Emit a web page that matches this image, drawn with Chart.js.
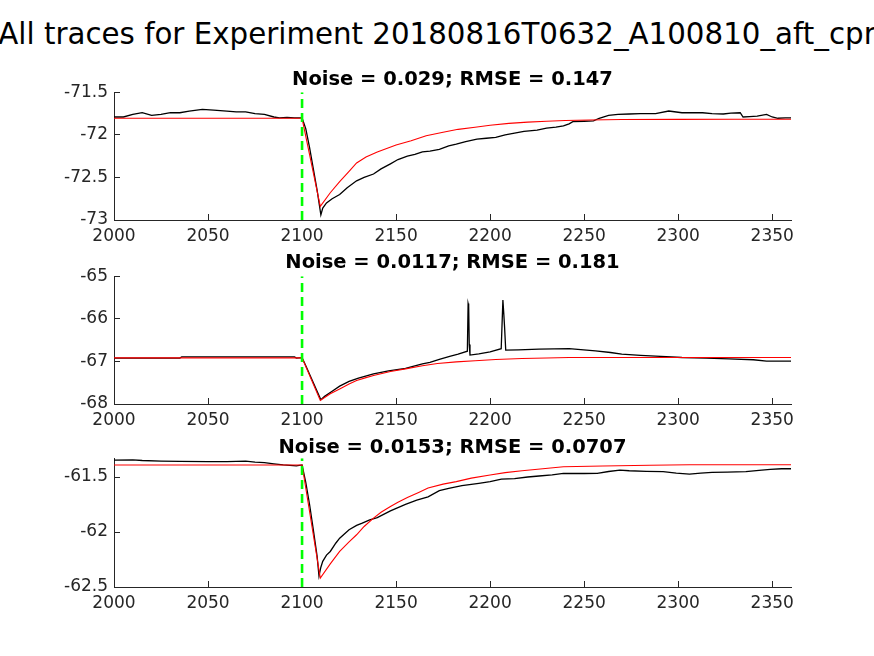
<!DOCTYPE html>
<html>
<head>
<meta charset="utf-8">
<title>All traces</title>
<script src="https://cdn.jsdelivr.net/npm/chart.js@4.4.1/dist/chart.umd.min.js"></script>
<style>
  html, body { margin: 0; padding: 0; background: #fff; }
  #page { position: relative; width: 874px; height: 656px; overflow: hidden; background: #fff; }
  #main-title {
    position: absolute; left: 50%; top: 20px; transform: translateX(-50%);
    white-space: nowrap; font-family: "DejaVu Sans", sans-serif; font-size: 29.3px;
    line-height: 29px; color: #000;
  }
  canvas { position: absolute; left: 0; }
</style>
</head>
<body>
<div id="page">
  <div id="main-title">All traces for Experiment 20180816T0632_A100810_aft_cpr</div>
  <canvas id="c1" width="874" height="200" style="top:60px"></canvas>
  <canvas id="c2" width="874" height="199" style="top:245px"></canvas>
  <canvas id="c3" width="874" height="199" style="top:428px"></canvas>
</div>
<script>
// shared x axis
const xTicks = [2000, 2050, 2100, 2150, 2200, 2250, 2300, 2350];
const xMin = 2000, xMax = 2360;
const stimTime = 2100;

// panel 1
const title1 = "Noise = 0.029; RMSE = 0.147";
const y1Ticks = [-73, -72.5, -72, -71.5];
const t1Trace = [2000, 2005, 2010, 2015, 2020, 2025, 2030, 2035, 2040, 2047, 2053, 2060, 2065, 2070, 2075, 2080, 2085, 2088, 2092, 2096, 2100,
  2102, 2104, 2106, 2108, 2110, 2111, 2113, 2116, 2120, 2124, 2129, 2133, 2138, 2142, 2147, 2151, 2156, 2160, 2164, 2168, 2173, 2178,
  2182, 2187, 2193, 2198, 2203, 2208, 2213, 2218, 2225, 2230, 2235, 2239, 2242, 2244, 2250, 2255, 2258, 2263, 2268, 2274, 2280, 2288,
  2295, 2302, 2308, 2313, 2318, 2324, 2328, 2333, 2334.5, 2338, 2342, 2347, 2350, 2353, 2357, 2360];
const v1Trace = [-71.79, -71.79, -71.76, -71.74, -71.77, -71.76, -71.74, -71.74, -71.72, -71.70, -71.71, -71.72, -71.73, -71.73, -71.75, -71.76, -71.79, -71.80, -71.795, -71.80, -71.80,
  -71.93, -72.15, -72.40, -72.65, -72.94, -72.86, -72.80, -72.75, -72.70, -72.62, -72.54, -72.50, -72.46, -72.40, -72.34, -72.29, -72.25, -72.23, -72.20, -72.19, -72.17, -72.13,
  -72.11, -72.08, -72.05, -72.04, -72.03, -72.00, -71.98, -71.96, -71.945, -71.92, -71.91, -71.895, -71.87, -71.845, -71.84, -71.835, -71.805, -71.77, -71.76, -71.755, -71.75, -71.75,
  -71.72, -71.74, -71.74, -71.74, -71.75, -71.755, -71.745, -71.74, -71.79, -71.785, -71.78, -71.76, -71.79, -71.805, -71.80, -71.80];
const t1Fit = [2000, 2100, 2109.7, 2115, 2120, 2125, 2129, 2134, 2140, 2145, 2150, 2158, 2166, 2175, 2183, 2192, 2200, 2210, 2220, 2230, 2240, 2253, 2270, 2300, 2330, 2360];
const v1Fit = [-71.805, -71.805, -72.84, -72.68, -72.55, -72.43, -72.33, -72.26, -72.20, -72.16, -72.12, -72.07, -72.01, -71.97, -71.935, -71.91, -71.887, -71.865, -71.85, -71.84, -71.832, -71.826, -71.82, -71.818, -71.817, -71.817];

// panel 2
const title2 = "Noise = 0.0117; RMSE = 0.181";
const y2Ticks = [-68, -67, -66, -65];
const t2Trace = [2000, 2035, 2036, 2096, 2097, 2100, 2102, 2105, 2108, 2110, 2112, 2116, 2120, 2125, 2130, 2138, 2146, 2155, 2164, 2168, 2173,
  2178.5, 2183, 2187.9, 2188.3, 2188.6, 2188.9, 2189.3, 2194, 2200, 2205.9, 2206.8, 2207.3, 2207.7, 2208.3, 2215, 2226, 2242, 2256, 2264,
  2270, 2280, 2288, 2302, 2315, 2327, 2340, 2347, 2360];
const v2Trace = [-66.92, -66.92, -66.893, -66.893, -66.92, -66.91, -67.10, -67.40, -67.70, -67.90, -67.82, -67.70, -67.58, -67.47, -67.39, -67.29, -67.22, -67.165, -67.06, -67.02, -66.95,
  -66.88, -66.83, -66.76, -65.64, -65.70, -66.60, -66.85, -66.82, -66.775, -66.70, -65.56, -65.90, -66.20, -66.735, -66.73, -66.712, -66.70, -66.75, -66.79,
  -66.83, -66.86, -66.877, -66.908, -66.92, -66.94, -66.96, -66.994, -66.994];
const t2Fit = [2000, 2100, 2109.7, 2115, 2120, 2125, 2129, 2134, 2138, 2147, 2155, 2164, 2172, 2182, 2192, 2203, 2217, 2230, 2242, 2360];
const v2Fit = [-66.916, -66.916, -67.915, -67.76, -67.646, -67.53, -67.45, -67.38, -67.33, -67.237, -67.175, -67.10, -67.05, -67.01, -66.985, -66.955, -66.93, -66.918, -66.908, -66.908];

// panel 3
const title3 = "Noise = 0.0153; RMSE = 0.0707";
const y3Ticks = [-62.5, -62, -61.5];
const y3Max = -61.33;
const t3Trace = [2000, 2010, 2015, 2025, 2035, 2050, 2060, 2070, 2075, 2080, 2085, 2090, 2097, 2100, 2102, 2104, 2106, 2108, 2109, 2110,
  2111, 2113, 2115, 2118, 2120, 2125, 2129, 2132, 2136, 2140, 2147, 2155, 2161, 2167, 2173, 2178, 2185, 2194, 2200, 2206, 2213, 2220,
  2226, 2233, 2239, 2250, 2257, 2263, 2269, 2274, 2283, 2292, 2299, 2306, 2312, 2318, 2326, 2336, 2343, 2349, 2355, 2360];
const v3Trace = [-61.346, -61.345, -61.35, -61.355, -61.358, -61.36, -61.36, -61.355, -61.365, -61.37, -61.38, -61.389, -61.398, -61.39, -61.55, -61.75, -61.98, -62.22, -62.40, -62.32,
  -62.267, -62.21, -62.177, -62.10, -62.056, -61.98, -61.94, -61.92, -61.89, -61.869, -61.808, -61.748, -61.71, -61.68, -61.624, -61.603, -61.579, -61.557, -61.542, -61.52, -61.515, -61.50,
  -61.491, -61.48, -61.467, -61.468, -61.467, -61.45, -61.437, -61.443, -61.448, -61.452, -61.465, -61.473, -61.465, -61.458, -61.455, -61.452, -61.44, -61.43, -61.425, -61.425];
const t3Fit = [2000, 2100, 2109.7, 2115, 2120, 2125, 2129, 2133, 2138, 2142, 2147, 2151, 2156, 2162, 2167, 2175, 2182, 2190, 2200, 2208, 2217, 2228, 2239, 2260, 2285, 2306, 2360];
const v3Fit = [-61.391, -61.391, -62.418, -62.29, -62.177, -62.09, -62.025, -61.95, -61.874, -61.82, -61.769, -61.73, -61.687, -61.64, -61.60, -61.565, -61.542, -61.51, -61.482, -61.46, -61.443, -61.425, -61.407, -61.40, -61.393, -61.389, -61.389];

(function () {
  const AXIS = '#262626';
  const FONT = '"DejaVu Sans", sans-serif';

  function pts(ts, vs) {
    return ts.map(function (t, i) { return { x: t, y: vs[i] }; });
  }

  // axes title, centred over the plot box like matlab does (not over the canvas)
  const axesTitle = {
    id: 'axesTitle',
    afterDraw: function (chart, args, opts) {
      const c = chart.ctx, a = chart.chartArea;
      c.save();
      c.font = 'bold 19.5px ' + FONT;
      c.fillStyle = '#000';
      c.textAlign = 'center';
      c.textBaseline = 'alphabetic';
      c.fillText(opts.text, (a.left + a.right) / 2, opts.baseline);
      c.restore();
    }
  };

  function panel(id, title, tTr, vTr, tFit, vFit, yTicks, yMax, padTop, baseline) {
    const ctx = document.getElementById(id);
    if (!ctx) { console.warn('[chart] missing canvas ' + id); return; }
    const yMin = yTicks[0];
    const yTop = (yMax !== undefined) ? yMax : yTicks[yTicks.length - 1];

    new Chart(ctx, {
      type: 'line',
      data: {
        datasets: [
          { label: 'stim', data: [{ x: stimTime, y: yMin }, { x: stimTime, y: yTop }], borderColor: '#00ff00',
            borderWidth: 2.6, borderDash: [9, 5], order: 0 },
          { label: 'fit', data: pts(tFit, vFit), borderColor: '#ff0000', borderWidth: 1.1, order: 1 },
          { label: 'trace', data: pts(tTr, vTr), borderColor: '#000000', borderWidth: 1.3, order: 2 }
        ]
      },
      plugins: [axesTitle],
      options: {
        responsive: false,
        animation: false,
        events: [],
        elements: { point: { radius: 0 }, line: { tension: 0, fill: false } },
        layout: { padding: { left: 0, right: 83, top: padTop, bottom: 0 } },
        plugins: {
          legend: { display: false },
          tooltip: { enabled: false },
          title: { display: false },
          axesTitle: { text: title, baseline: baseline }
        },
        scales: {
          x: {
            type: 'linear', min: xMin, max: xMax,
            afterBuildTicks: function (s) { s.ticks = xTicks.map(function (v) { return { value: v }; }); },
            afterFit: function (s) { s.height = 40; },
            grid: { drawOnChartArea: false, drawTicks: true, tickLength: -6, color: AXIS },
            border: { display: true, color: AXIS, width: 1 },
            ticks: { color: AXIS, padding: 12.5, maxRotation: 0, autoSkip: false,
                     font: { family: FONT, size: 17 }, callback: function (v) { return String(v); } }
          },
          y: {
            type: 'linear', min: yMin, max: yTop,
            afterBuildTicks: function (s) { s.ticks = yTicks.map(function (v) { return { value: v }; }); },
            afterFit: function (s) { s.width = 114; },
            grid: { drawOnChartArea: false, drawTicks: true, tickLength: -6, color: AXIS },
            border: { display: true, color: AXIS, width: 1 },
            ticks: { color: AXIS, padding: 12, autoSkip: false,
                     font: { family: FONT, size: 17 }, callback: function (v) { return String(v); } }
          }
        }
      }
    });
  }

  function start() {
    if (typeof window.Chart === 'undefined') {
      console.error('[chart] Chart.js not loaded yet.');
      return setTimeout(start, 50);
    }
    // canvas tops are 60 / 245 / 428; plot tops land at 92 / 276 / 458
    panel('c1', title1, t1Trace, v1Trace, t1Fit, v1Fit, y1Ticks, undefined, 32.3, 25);
    panel('c2', title2, t2Trace, v2Trace, t2Fit, v2Fit, y2Ticks, undefined, 31.3, 23.3);
    panel('c3', title3, t3Trace, v3Trace, t3Fit, v3Fit, y3Ticks, y3Max, 30.3, 24.7);
  }

  if (document.readyState === 'loading') {
    document.addEventListener('DOMContentLoaded', start);
  } else {
    start();
  }
})();
</script>
</body>
</html>
